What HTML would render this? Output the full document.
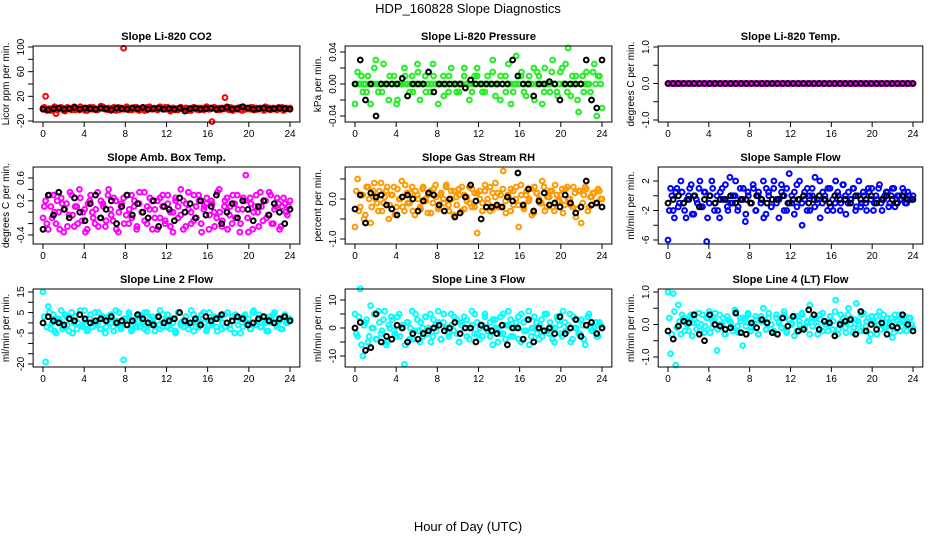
<!DOCTYPE html>
<html><head><meta charset="utf-8"><style>
body{margin:0;background:#fff}
svg{display:block;font-family:"Liberation Sans",sans-serif}
</style></head><body>
<svg id="c" width="936" height="540" viewBox="0 0 936 540" xmlns="http://www.w3.org/2000/svg">
<text x="468" y="13" text-anchor="middle" font-size="13">HDP_160828  Slope Diagnostics</text>
<text x="468" y="531" text-anchor="middle" font-size="13">Hour of Day (UTC)</text>
</svg>
<script>
const hourTicks=[0,4,8,12,16,20,24];
const co2Vals=[1,20,-2,-3,0,-8,-1,2,-3,1,0,-2,3,-1,-2,0,1,-3,2,-1,0,-2,1,3,-1,-2,0,1,-3,2,-1,98,0,-2,1,-1,2,-3,0,1,-2,3,-1,0,-2,1,-1,2,0,-3,1,-2,0,2,-1,1,-3,0,2,-1,-2,1,0,3,-1,-21,2,0,-2,1,18,-1,2,-3,0,1,-2,3,-1,0,2,-2,1,-1,0,-3,2,1,-1,0,-2,1,2,-1,0,1];
const co2Vals2=[2,-3,0,-1,3,-2,1,0,-4,2,-1,1,-2,0,3,-1,-3,1,0,2,-2,-1,4,0,-1,1,-3,2,0,-2,1,-1,3,0,-2,2,-1,0,1,-3,2,0,-1,1,-2,3,0,-1,2,-4,1,0,-2,2,-1,1,0,-3,2,-1,1,0,-2,3,-1,0,2,-2,1,-1,0,3,-2,1,0,-1,2,-3,1,0,-1,2,-2,0,1,-1,3,0,-2,1,-1,2,0,-3,1,0];
const co2Blk=[-1,-2,0,1,-1,0,2,-1,1,0,-1,1,0,-2,1,0,-1,1,0,2,-1,0,1,-1,0,-1,1,-4,0,1,-1,0,1,-1,0,2,-1,0,3,1,-1,0,1,-1,0,1,0,-1];
const presVals=[-0.025,0.015,0,-0.01,0,0.01,-0.025,0,0.03,-0.01,0,0.025,0,-0.02,0,0.01,-0.025,0,0,0.02,0,-0.01,0.01,0,0.025,-0.02,0,0.01,0,-0.01,0.025,0,-0.025,0,0.01,0,-0.01,0.02,0,0,-0.01,0,0.01,0,-0.02,0,0.01,0.02,0,-0.01,0,0.01,0,0.03,-0.015,0,0.01,0,-0.01,0.025,-0.025,0,0.035,0,0.015,-0.01,0,0.01,0,-0.02,0.015,0,-0.025,0.02,0,-0.01,0.03,0,-0.015,0.015,0,0.025,0.045,-0.015,0,0.01,-0.035,0,-0.01,0.015,0,-0.02,0.025,-0.04,0.01,-0.03];
const presVals2=[0,0,0.01,0,-0.01,0,0,0.02,0,0,-0.01,0,0,0.01,0,0,-0.02,0,0,0.01,0,0,-0.01,0,0.015,0,0,-0.01,0,0,0.01,0,0,0,-0.015,0,0.01,0,0,-0.01,0,0,0.02,0,0,-0.01,0,0.01,0,0,-0.01,0,0,0.015,0,0,-0.02,0,0.01,0,0,-0.01,0,0,0.01,0,-0.015,0,0,0.02,0,0.01,0,-0.01,0,0,0.015,0,-0.01,0,0.02,0,-0.01,0,0.01,0,-0.02,0,0.01,0,0,-0.01,0.015,0,0.01,0];
const presBlk=[0,0.03,-0.02,0,-0.04,0,0,0,0,0.007,-0.015,0,0,0,0.015,-0.01,0,0,0,0,0,-0.005,0.005,0,0,0,0,0,0,0,0.03,0.01,0,0,-0.015,0,0,0.003,0,-0.02,0,0,0,0,0.03,-0.02,-0.03,0.03];
const tempVals=[0,0,0,0,0,0,0,0,0,0,0,0,0,0,0,0,0,0,0,0,0,0,0,0,0,0,0,0,0,0,0,0,0,0,0,0,0,0,0,0,0,0,0,0,0,0,0,0,0,0,0,0,0,0,0,0,0,0,0,0,0,0,0,0,0,0,0,0,0,0,0,0,0,0,0,0,0,0,0,0,0,0,0,0,0,0,0,0,0,0,0,0,0,0,0,0];
const tempVals2=[0,0,0,0,0,0,0,0,0,0,0,0,0,0,0,0,0,0,0,0,0,0,0,0,0,0,0,0,0,0,0,0,0,0,0,0,0,0,0,0,0,0,0,0,0,0,0,0,0,0,0,0,0,0,0,0,0,0,0,0,0,0,0,0,0,0,0,0,0,0,0,0,0,0,0,0,0,0,0,0,0,0,0,0,0,0,0,0,0,0,0,0,0,0,0,0];
const tempBlk=[0,0,0,0,0,0,0,0,0,0,0,0,0,0,0,0,0,0,0,0,0,0,0,0,0,0,0,0,0,0,0,0,0,0,0,0,0,0,0,0,0,0,0,0,0,0,0,0];
const ambVals=[-0.1,0.2,-0.3,0.1,0.3,-0.2,0,0.25,-0.35,0.15,-0.05,0.3,-0.25,0.1,0.4,-0.15,0.05,-0.3,0.2,0,-0.2,0.35,-0.1,0.15,-0.25,0.3,0.05,-0.15,0.2,-0.35,0.1,0.25,-0.05,-0.2,0.3,0.1,-0.3,0.15,0,0.35,-0.2,0.05,0.2,-0.1,-0.3,0.25,0.1,-0.15,0.3,-0.25,0,0.2,-0.1,0.4,-0.3,0.15,0.05,-0.2,0.3,-0.1,0.2,-0.35,0.1,0.25,-0.05,0.15,-0.25,0.35,0,-0.15,0.2,-0.3,0.1,0.3,-0.1,0.05,-0.2,0.25,0.65,-0.35,0.15,0,0.3,-0.25,0.1,0.2,-0.1,0.35,-0.2,0.05,0.25,-0.3,0.1,0.15,-0.05,0.2];
const ambVals2=[0.1,-0.2,0.3,-0.1,0,0.2,-0.3,0.15,0.05,-0.25,0.35,-0.05,0.1,-0.2,0.25,0,-0.35,0.15,0.3,-0.1,0.05,-0.25,0.2,0.1,-0.15,0.4,-0.05,0.25,-0.3,0,0.15,-0.2,0.3,0.05,-0.1,0.2,-0.25,0.35,0,-0.15,0.1,0.25,-0.3,0.05,0.2,-0.1,0.3,-0.2,0.15,0,-0.35,0.25,0.1,-0.05,0.2,-0.25,0.35,0,-0.15,0.1,0.3,-0.2,0.05,0.15,-0.3,0.2,0,-0.1,0.4,-0.25,0.1,0.25,-0.05,-0.2,0.15,0.3,-0.35,0.05,0.2,-0.1,0.25,-0.3,0.1,0,0.35,-0.15,0.2,-0.05,0.3,-0.2,0.1,0.15,-0.25,0.25,0,0.1];
const ambBlk=[-0.3,0.3,-0.05,0.35,0.05,-0.1,0.25,0,-0.15,0.15,0.3,-0.1,0.05,0.2,-0.2,0.1,0.3,-0.05,0.15,0,-0.1,0.2,-0.25,0.1,0.05,-0.15,0.25,0,0.15,-0.1,0.2,-0.05,0.1,0.3,-0.2,0,0.15,-0.1,0.2,0.05,-0.15,0.1,0.2,-0.05,0.15,0,-0.2,0.05];
const rhVals=[-0.7,0.5,-0.2,0.1,-0.4,0.3,-0.6,0.2,0,-0.3,0.4,-0.1,0.2,-0.5,0.1,0.3,-0.2,0,0.45,-0.3,0.15,-0.1,0.3,-0.4,0.1,-0.2,0.25,0,-0.35,0.2,-0.1,0.35,-0.25,0.1,0,0.3,-0.15,0.2,-0.4,0.05,0.25,-0.3,0.1,-0.05,0.3,-0.2,0.15,-0.85,0.2,-0.1,0.35,0,-0.3,0.15,0.4,-0.2,0.1,0.7,-0.35,0.05,0.25,-0.15,0.3,-0.7,0.1,-0.25,0.2,0,-0.4,0.3,0.15,-0.1,0.45,-0.3,0.05,0.2,-0.2,0.35,-0.05,0.1,-0.35,0.25,0,-0.15,0.3,-0.45,0.2,-0.6,0.1,0.25,-0.2,0.05,0.15,-0.1,0.2,0];
const rhVals2=[0.2,-0.3,0.1,-0.5,0.3,0,-0.2,0.4,-0.1,0.2,-0.3,0.05,0.3,-0.15,0.1,-0.4,0.25,0,-0.2,0.35,-0.1,0.15,-0.3,0.2,0,-0.25,0.3,-0.05,0.1,-0.35,0.25,0.05,-0.2,0.15,-0.1,0.35,-0.3,0,0.2,-0.15,0.1,0.3,-0.25,0.05,-0.1,0.25,-0.2,0.15,0,-0.3,0.2,-0.1,0.3,-0.25,0.05,0.15,-0.2,0.25,-0.05,0.1,-0.3,0.2,0,-0.15,0.35,-0.2,0.1,-0.05,0.25,-0.35,0.15,0,-0.1,0.3,-0.2,0.05,0.2,-0.3,0.1,-0.05,0.25,-0.15,0.3,0,-0.2,0.15,-0.25,0.2,-0.1,0.3,-0.3,0.05,0.15,-0.1,0.25,0];
const rhBlk=[-0.25,0.1,-0.6,0.15,0.05,0.1,-0.15,-0.25,-0.4,0.05,0.1,0,-0.3,-0.05,0.15,0.1,-0.15,-0.3,0,-0.45,-0.35,0.05,0.35,-0.05,-0.5,-0.2,-0.2,-0.15,-0.2,0.05,-0.05,0.65,-0.15,0.25,-0.3,-0.05,0.15,-0.15,-0.1,-0.2,0.1,-0.1,-0.35,-0.2,0.45,-0.15,-0.1,-0.2];
const sfVals=[-6,1,-2,0.5,-1.5,2,-1,-3,0,1.5,-2.5,-0.5,1,-1.5,0.5,-6.2,-1,2,-2,0,-3,1,-0.5,-1.5,2.5,-1,0,-2,1,-0.5,-3.5,0.5,-1,1.5,-2,0,-1,2,-2.5,0.5,-1.5,1,-0.5,-3,1.5,0,-2,3,-1,0.5,-1.5,2,-4,-0.5,1,-2,0,2.5,-1,-3,0.5,-0.5,1,-1.5,-2,2,0,-1,1.5,-2.5,0.5,-0.5,1,-1.5,2,-1,0,-2,0.5,1,-1,-0.5,1.5,-2,0,0.5,-1,1,-1.5,0,-0.5,1,-1,0.5,-0.5,0];
const sfVals2=[-2,0,-3,1,-1,0.5,-2,-0.5,1,-2.5,0,-1,2,-1.5,0.5,-3,0,1,-1,-2,0.5,-0.5,1.5,-2,-1,0,2,-1.5,-0.5,1,-2.5,0,-1,1,-2,0.5,-0.5,-3,1,0,-1.5,2,-1,-0.5,0.5,-2,1,-1,0,-2.5,1.5,-0.5,-1,0.5,-2,0,1,-1.5,-0.5,2,-1,0,-2,1,-0.5,-1,0.5,-2,1.5,0,-1,-0.5,1,-2,0,-1.5,0.5,-1,1,-0.5,-2,0,1,-1,-0.5,0.5,-1.5,0,1,-1,0,-0.5,0.5,-1,0,-0.5];
const sfBlk=[-1,-0.5,0,-1,-0.5,0,-1.5,-0.5,0,-1,-0.5,-0.5,0,-1,-0.5,-0.5,-1,0,-0.5,-1,-0.5,-0.5,0,-1,-0.5,-0.5,0,-1,-0.5,0,-0.5,-1,0,-0.5,-0.5,-1,0,-0.5,-0.5,0,-1,-0.5,0,-0.5,-1,0,-0.5,-0.5];
const l2Vals=[15,-19,8,-3,4,-5,2,6,-2,3,-4,5,0,-3,4,-1,6,-4,2,-2,5,0,-3,3,-5,1,4,-2,6,-1,-3,-18,2,5,-4,1,-2,4,0,-3,5,-1,3,-4,1,6,-2,0,4,-3,2,-5,5,0,-2,3,-1,6,-4,1,-2,4,0,-3,5,-1,2,-4,3,0,-2,5,-3,1,4,-1,-5,3,0,2,-3,6,-1,4,-2,1,-4,3,0,5,-2,1,-3,4,0,2];
const l2Vals2=[3,-2,5,0,-4,2,1,-3,4,-1,2,-5,3,0,6,-2,1,-3,4,0,-1,5,-3,2,-2,3,0,-4,1,5,-2,2,-1,4,-3,0,3,-2,1,5,-4,2,0,-1,3,-3,4,1,-2,2,0,-4,5,-1,1,3,-3,0,4,-2,2,-1,5,-4,1,0,3,-2,2,-3,4,0,-1,3,-5,1,2,-2,4,0,-3,5,-1,1,-2,3,0,-4,2,4,-1,1,-3,3,0,1];
const l2Blk=[0,3,1,0,-1,2,1,4,2,0,1,2,1,3,0,1,-1,1,4,2,0,-1,3,0,1,2,5,1,0,2,-1,3,1,2,4,0,1,3,2,-1,0,2,3,1,0,2,3,1];
const l3Vals=[5,-3,14,-10,2,-5,8,0,-4,6,-2,3,-6,1,4,-1,-3,5,0,-13,2,-4,6,-1,3,-5,0,4,-2,5,-3,1,6,-4,2,0,-2,5,-1,3,-5,1,4,-3,0,6,-2,2,-4,1,5,-1,-3,3,0,-5,4,-2,1,6,-3,0,2,-4,5,-1,3,-6,0,4,-2,1,-3,5,-1,2,-4,0,3,-2,6,-1,1,-5,4,0,-2,3,-4,1,5,-1,0,-3,2,0];
const l3Vals2=[-2,4,-6,1,3,-3,0,5,-4,2,-1,6,-5,0,3,-2,4,-3,1,-6,2,0,-4,5,-1,2,-3,4,0,-5,3,-1,2,-4,5,0,-3,1,4,-2,-5,2,0,3,-4,1,5,-2,0,-3,4,-1,2,-6,3,0,-2,5,-4,1,3,-3,0,4,-5,2,-1,6,-3,0,2,-4,3,-1,5,-2,0,-5,4,1,-3,2,-1,5,-4,0,3,-2,1,-6,4,0,-1,2,-3,1];
const l3Blk=[0,2,-8,-7,5,-5,-3,-4,1,0,-5,-2,-4,-2,-1,0,1,-1,0,2,-2,0,0,-5,1,0,-1,-2,1,-6,0,0,-4,3,-5,0,-1,0,-2,4,-2,0,3,-3,1,2,-2,0];
const l4Vals=[1.0,-0.9,0.95,-1.25,0.6,-0.3,0.2,0.1,-0.2,0.3,0.05,-0.15,0.35,0,-0.25,0.2,0.4,-0.1,0.15,-0.8,0.3,0,-0.3,0.25,0.1,-0.2,0.45,-0.05,0.2,-0.65,0.15,0.35,-0.1,0.05,0.25,-0.3,0.1,0.5,-0.15,0.2,0,-0.25,0.3,0.1,-0.1,0.4,-0.2,0.15,0.05,-0.35,0.25,0,0.3,-0.15,0.1,0.6,-0.05,0.2,-0.3,0.15,0.35,0,-0.2,0.25,0.1,0.75,-0.15,0.3,0.05,-0.25,0.5,0.2,-0.1,0.65,0,0.3,-0.2,0.1,-0.5,0.25,0.05,-0.3,0.4,0.15,-0.1,0.2,0,-0.4,0.3,0.1,-0.2,0.15,0.25,-0.05,0.2,-0.1];
const l4Vals2=[0.2,-0.3,0.4,-0.1,0.1,0.3,-0.2,0,0.25,-0.35,0.15,0.05,-0.2,0.3,-0.05,0.2,-0.25,0.1,0.35,-0.15,0,0.2,-0.3,0.15,0.05,-0.1,0.4,-0.25,0.1,0.2,-0.05,0.3,-0.2,0,0.15,-0.3,0.25,0.1,-0.15,0.35,0,-0.2,0.2,0.05,-0.1,0.3,-0.25,0.15,0,0.25,-0.2,0.1,0.35,-0.1,0.05,-0.3,0.2,0.15,-0.05,0.3,-0.2,0.1,0,0.25,-0.15,0.4,-0.3,0.05,0.2,-0.1,0.3,0,-0.25,0.15,0.1,-0.2,0.35,-0.05,0.2,-0.3,0.1,0.25,0,-0.15,0.3,-0.1,0.05,0.2,-0.25,0.15,0.3,-0.05,0.1,-0.2,0.2,0];
const l4Blk=[-0.2,-0.45,-0.05,0.1,0.05,0.3,-0.3,-0.5,0.3,0,-0.05,-0.15,-0.1,0.35,-0.25,-0.3,0.05,-0.1,0.15,0.05,-0.25,-0.3,0.2,-0.05,0.25,-0.2,-0.15,0.45,0.3,-0.15,0.1,0.05,-0.35,0,0.1,0.15,-0.3,0.4,-0.2,0,-0.15,0.05,-0.3,-0.05,-0.1,0.3,0,-0.2];

const svg=document.getElementById('c');
const NS='http://www.w3.org/2000/svg';
function mk(tag,attrs,parent){const e=document.createElementNS(NS,tag);for(const k in attrs)e.setAttribute(k,attrs[k]);(parent||svg).appendChild(e);return e;}
const cols=[{x0:43,x1:290},{x0:355,x1:602},{x0:668,x1:913}];
const rows=[{top:46,bot:122},{top:167,bot:244},{top:289,bot:367}];
const panels=[
 {id:'co2',title:'Slope Li-820 CO2',ylab:'Licor ppm per min.',color:'#ff0000',vals:co2Vals,vals2:co2Vals2,blk:co2Blk,ym:[100,47,-20,121],ticks:[-20,0,20,40,60,80,100],labels:[[-20,'-20'],[20,'20'],[60,'60'],[100,'100']]},
 {id:'pressure',title:'Slope Li-820 Pressure',ylab:'kPa per min.',color:'#22ee22',vals:presVals,vals2:presVals2,blk:presBlk,ym:[0.04,52,-0.04,116],ticks:[-0.04,-0.02,0,0.02,0.04],labels:[[-0.04,'-0.04'],[0,'0.00'],[0.04,'0.04']]},
 {id:'temp',title:'Slope Li-820 Temp.',ylab:'degrees C per min.',color:'#ff00ff',vals:tempVals,vals2:tempVals2,blk:tempBlk,ym:[1,47,-1,120],ticks:[-1,-0.5,0,0.5,1],labels:[[-1,'-1.0'],[0,'0.0'],[1,'1.0']]},
 {id:'amb-box',title:'Slope Amb. Box Temp.',ylab:'degrees C per min.',color:'#ff00ff',vals:ambVals,vals2:ambVals2,blk:ambBlk,ym:[0.6,178,-0.4,235],ticks:[-0.4,-0.2,0,0.2,0.4,0.6],labels:[[-0.4,'-0.4'],[0.2,'0.2'],[0.6,'0.6']]},
 {id:'rh',title:'Slope Gas Stream RH',ylab:'percent per min.',color:'#ff9900',vals:rhVals,vals2:rhVals2,blk:rhBlk,ym:[0.5,179,-1,239],ticks:[-1,-0.5,0,0.5],labels:[[-1,'-1.0'],[0,'0.0']]},
 {id:'sample-flow',title:'Slope Sample Flow',ylab:'ml/min per min.',color:'#0000ff',vals:sfVals,vals2:sfVals2,blk:sfBlk,ym:[2,181,-6,240],ticks:[-6,-4,-2,0,2],labels:[[-6,'-6'],[-2,'-2'],[2,'2']]},
 {id:'line2',title:'Slope Line 2 Flow',ylab:'ml/min per min.',color:'#00ffff',vals:l2Vals,vals2:l2Vals2,blk:l2Blk,ym:[15,292,-20,364],ticks:[-20,-15,-10,-5,0,5,10,15],labels:[[-20,'-20'],[-5,'-5'],[5,'5'],[15,'15']]},
 {id:'line3',title:'Slope Line 3 Flow',ylab:'ml/min per min.',color:'#00ffff',vals:l3Vals,vals2:l3Vals2,blk:l3Blk,ym:[10,300,-10,356],ticks:[-10,-5,0,5,10],labels:[[-10,'-10'],[0,'0'],[10,'10']]},
 {id:'line4',title:'Slope Line 4 (LT) Flow',ylab:'ml/min per min.',color:'#00ffff',vals:l4Vals,vals2:l4Vals2,blk:l4Blk,ym:[1,292,-1,357],ticks:[-1,-0.5,0,0.5,1],labels:[[-1,'-1.0'],[0,'0.0'],[1,'1.0']]}
];
panels.forEach((p,i)=>{
 const c=cols[i%3],r=rows[Math.floor(i/3)];
 const xs=h=>c.x0+(c.x1-c.x0)*h/24;
 const ys=v=>p.ym[1]+(v-p.ym[0])*(p.ym[3]-p.ym[1])/(p.ym[2]-p.ym[0]);
 const bl=xs(-0.96),br=xs(24.96);
 const g=mk('g',{});
 
 
 const t=mk('text',{x:(bl+br)/2,y:r.top-6,'text-anchor':'middle','font-size':'11','font-weight':'bold'},g);t.textContent=p.title;
 
 
 const pg=mk('g',{fill:'none','stroke-width':'2'},g);
 
 
 const n1=p.vals.length,n2=p.vals2.length;
 p.vals.forEach((v,k)=>{const ci=mk('circle',{cx:xs(24*k/(n1-1)),cy:ys(v),r:2.4,stroke:p.color},pg);
  
  });
 p.vals2.forEach((v,k)=>{const ci=mk('circle',{cx:xs(24*(k+0.5)/n2),cy:ys(v),r:2.4,stroke:p.color},pg);
  
  });
 const kg=mk('g',{fill:'none','stroke-width':'2'},g);
 
 
 p.blk.forEach((v,k)=>{const ci=mk('circle',{cx:xs(24*k/(p.blk.length-1)),cy:ys(v),r:2.4,stroke:'#000'},kg);
  
  });
 const box=mk('rect',{x:bl,y:r.top,width:br-bl,height:r.bot-r.top,fill:'none',stroke:'#000','stroke-width':'1'},g);
 
 
 hourTicks.forEach(h=>{mk('line',{x1:xs(h),x2:xs(h),y1:r.bot,y2:r.bot+5,stroke:'#000'},g);
  const tl=mk('text',{x:xs(h),y:r.bot+15,'text-anchor':'middle','font-size':'10'},g);tl.textContent=h;
  
  });
 p.ticks.forEach(v=>mk('line',{x1:bl-5,x2:bl,y1:ys(v),y2:ys(v),stroke:'#000'},g));
 p.labels.forEach(([v,s])=>{const tl=mk('text',{x:0,y:0,'text-anchor':'middle','font-size':'10',transform:`translate(${bl-9},${ys(v)}) rotate(-90)`},g);tl.textContent=s;
  
  });
 const yl=mk('text',{x:0,y:0,'text-anchor':'middle','font-size':'10',transform:`translate(${bl-24},${(r.top+r.bot)/2}) rotate(-90)`},g);yl.textContent=p.ylab;
 
 
});
</script>
</body></html>
